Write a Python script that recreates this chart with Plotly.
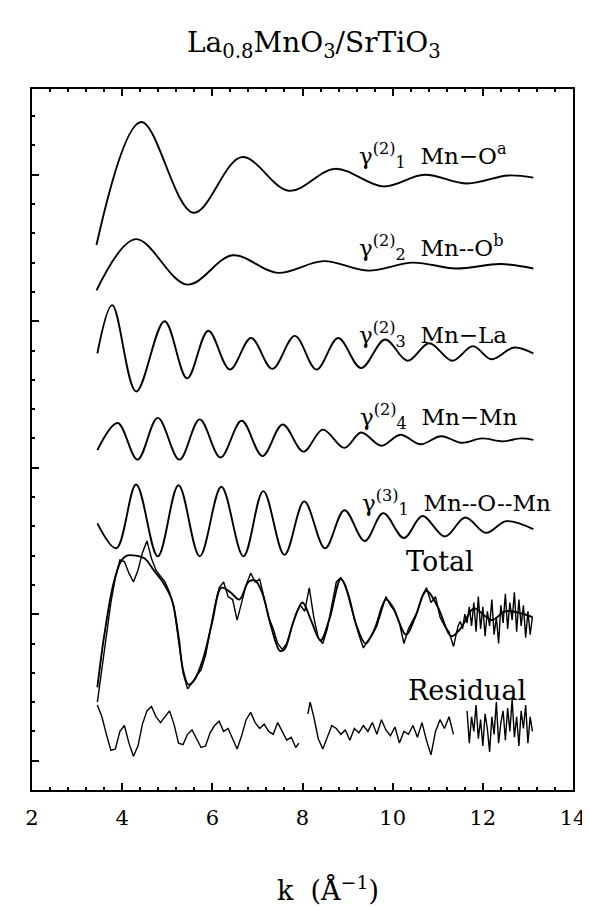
import plotly.graph_objects as go

# ---- component curves (extrema), shifted values ----
K_MNOA = [3.43, 4.42, 5.58, 6.65, 7.70, 8.72, 9.79, 10.70, 11.65, 12.56, 13.12]
Y_MNOA = [3.52, 4.36, 3.74, 4.12, 3.89, 4.04, 3.92, 4.00, 3.94, 3.995, 3.98]

K_MNOB = [3.43, 4.30, 5.44, 6.45, 7.44, 8.47, 9.46, 10.45, 11.40, 12.40, 13.12]
Y_MNOB = [3.21, 3.56, 3.25, 3.45, 3.33, 3.41, 3.345, 3.40, 3.36, 3.39, 3.36]

K_MNLA = [3.45, 3.78, 4.31, 4.94, 5.44, 5.91, 6.39, 6.86, 7.33, 7.83, 8.31, 8.79,
          9.30, 9.83, 10.33, 10.81, 11.32, 11.78, 12.19, 12.69, 13.12]
Y_MNLA = [2.78, 3.11, 2.52, 3.00, 2.61, 2.935, 2.67, 2.885, 2.675, 2.90, 2.67, 2.885,
          2.68, 2.875, 2.73, 2.85, 2.73, 2.83, 2.74, 2.82, 2.78]

K_MNMN = [3.45, 3.90, 4.34, 4.79, 5.27, 5.72, 6.18, 6.65, 7.11, 7.56, 8.02, 8.45,
          8.93, 9.30, 9.75, 10.17, 10.62, 11.07, 11.53, 11.98, 12.44, 12.85, 13.12]
Y_MNMN = [2.12, 2.305, 2.055, 2.34, 2.055, 2.33, 2.07, 2.32, 2.08, 2.295, 2.11, 2.26,
          2.135, 2.24, 2.15, 2.225, 2.16, 2.215, 2.17, 2.20, 2.18, 2.20, 2.19]

K_MNOMN = [3.45, 3.87, 4.31, 4.79, 5.25, 5.72, 6.20, 6.69, 7.13, 7.60, 8.04, 8.50,
           8.93, 9.38, 9.79, 10.25, 10.66, 11.16, 11.61, 12.07, 12.52, 13.12]
Y_MNOMN = [1.62, 1.45, 1.885, 1.395, 1.88, 1.395, 1.87, 1.395, 1.84, 1.405, 1.77, 1.45,
           1.71, 1.50, 1.69, 1.52, 1.67, 1.53, 1.66, 1.555, 1.635, 1.58]

# ---- total: fit (smooth) and data (noisy) ----
K_FIT = [3.45, 3.6, 3.8, 3.97, 4.1, 4.3, 4.5, 4.7, 4.9, 5.1, 5.25, 5.35, 5.47, 5.6,
         5.8, 6.0, 6.2, 6.4, 6.6, 6.8, 6.95, 7.1, 7.3, 7.5, 7.6, 7.8, 8.0, 8.2, 8.4,
         8.6, 8.85, 9.0, 9.2, 9.4, 9.6, 9.85, 10.0, 10.3, 10.5, 10.75, 11.0, 11.3,
         11.5, 11.8, 12.0, 12.2, 12.5, 12.8, 13.1]
Y_FIT = [0.50, 0.85, 1.20, 1.36, 1.40, 1.40, 1.38, 1.30, 1.22, 1.10, 0.85, 0.62, 0.52,
         0.55, 0.70, 0.95, 1.18, 1.15, 1.10, 1.22, 1.23, 1.15, 0.92, 0.75, 0.76, 0.95,
         1.08, 0.95, 0.82, 0.97, 1.24, 1.15, 0.92, 0.80, 0.90, 1.10, 1.05, 0.86, 0.98,
         1.16, 1.05, 0.85, 0.90, 1.04, 1.00, 0.96, 1.02, 1.01, 0.98]

K_DATA = [3.45, 3.55, 3.65, 3.75, 3.85, 3.95, 4.05, 4.15, 4.25, 4.35, 4.45, 4.55, 4.65,
          4.75, 4.85, 4.95, 5.05, 5.15, 5.25, 5.35, 5.45, 5.55, 5.65, 5.75, 5.85, 5.95,
          6.05, 6.15, 6.25, 6.35, 6.45, 6.55, 6.65, 6.75, 6.85, 6.95, 7.05, 7.15, 7.25,
          7.35, 7.45, 7.55, 7.65, 7.75, 7.85, 7.95, 8.05, 8.15, 8.25, 8.35, 8.45, 8.55,
          8.65, 8.75, 8.85, 8.95, 9.05, 9.15, 9.25, 9.35, 9.45, 9.55, 9.65, 9.75, 9.85,
          9.95, 10.05, 10.15, 10.25, 10.35, 10.45, 10.55, 10.65, 10.75, 10.85, 10.95,
          11.05, 11.15, 11.25, 11.35, 11.45, 11.50, 11.55, 11.60, 11.65, 11.70, 11.75,
          11.80, 11.85, 11.90, 11.95, 12.00, 12.05, 12.10, 12.15, 12.20, 12.25, 12.30,
          12.35, 12.40, 12.45, 12.50, 12.55, 12.60, 12.65, 12.70, 12.75, 12.80, 12.85,
          12.90, 12.95, 13.00, 13.05, 13.10]
Y_DATA = [0.40, 0.62, 0.85, 1.08, 1.25, 1.37, 1.36, 1.28, 1.22, 1.30, 1.42, 1.50, 1.38,
          1.30, 1.26, 1.22, 1.15, 1.05, 0.82, 0.60, 0.49, 0.53, 0.58, 0.62, 0.72, 0.90,
          1.05, 1.18, 1.22, 1.12, 1.10, 0.96, 1.08, 1.20, 1.28, 1.22, 1.24, 1.10, 0.98,
          0.90, 0.80, 0.76, 0.80, 0.90, 1.00, 1.06, 1.02, 1.18, 0.98, 0.84, 0.80, 0.90,
          1.05, 1.22, 1.25, 1.20, 1.08, 0.96, 0.86, 0.77, 0.82, 0.86, 0.92, 1.02, 1.12,
          1.06, 1.02, 0.94, 0.80, 0.90, 0.96, 1.02, 1.12, 1.18, 1.08, 1.12, 0.98, 0.92,
          0.88, 0.78, 0.92, 0.95, 0.90, 1.00, 0.94, 1.05, 0.92, 1.08, 0.88, 1.12, 0.90,
          1.05, 0.85, 1.02, 0.92, 1.10, 0.86, 0.98, 0.80, 1.06, 0.94, 1.14, 0.90, 1.08,
          0.96, 1.15, 0.88, 1.10, 0.92, 1.06, 0.84, 1.02, 0.86, 0.98]

# ---- residual (None marks a break in the trace) ----
K_RES = [3.45, 3.55, 3.65, 3.75, 3.85, 3.95, 4.05, 4.15, 4.25, 4.35, 4.45, 4.55, 4.65,
         4.75, 4.85, 4.95, 5.05, 5.15, 5.25, 5.35, 5.45, 5.55, 5.65, 5.75, 5.85, 5.95,
         6.05, 6.15, 6.25, 6.35, 6.45, 6.55, 6.65, 6.75, 6.85, 6.95, 7.05, 7.15, 7.25,
         7.35, 7.45, 7.55, 7.65, 7.75, 7.85, 7.92, 8.02, 8.12, 8.17, 8.25, 8.35, 8.45,
         8.55, 8.65, 8.75, 8.85, 8.95, 9.05, 9.15, 9.25, 9.35, 9.45, 9.55, 9.65, 9.75,
         9.85, 9.95, 10.05, 10.15, 10.25, 10.35, 10.45, 10.55, 10.65, 10.75, 10.85,
         10.95, 11.05, 11.15, 11.25, 11.35, 11.50, 11.65, 11.70, 11.75, 11.80, 11.85,
         11.90, 11.95, 12.00, 12.05, 12.10, 12.15, 12.20, 12.25, 12.30, 12.35, 12.40,
         12.45, 12.50, 12.55, 12.60, 12.65, 12.70, 12.75, 12.80, 12.85, 12.90, 12.95,
         13.00, 13.05, 13.10]
Y_RES = [0.38, 0.30, 0.18, 0.07, 0.08, 0.20, 0.24, 0.12, 0.03, 0.10, 0.25, 0.34, 0.37,
         0.30, 0.26, 0.30, 0.34, 0.25, 0.12, 0.11, 0.18, 0.21, 0.15, 0.09, 0.10, 0.19,
         0.24, 0.27, 0.20, 0.22, 0.15, 0.08, 0.17, 0.28, 0.33, 0.26, 0.22, 0.25, 0.20,
         0.18, 0.26, 0.20, 0.14, 0.16, 0.09, 0.12, None, 0.32, 0.40, 0.30, 0.15, 0.08,
         0.16, 0.24, 0.22, 0.18, 0.21, 0.14, 0.22, 0.19, 0.24, 0.20, 0.26, 0.18, 0.28,
         0.21, 0.17, 0.23, 0.12, 0.20, 0.18, 0.24, 0.16, 0.26, 0.14, 0.04,
         0.20, 0.28, 0.22, 0.30, 0.18, None, 0.34, 0.12, 0.30, 0.20, 0.38,
         0.15, 0.28, 0.10, 0.32, 0.22, 0.06, 0.30, 0.18, 0.40, 0.12, 0.26,
         0.34, 0.14, 0.36, 0.20, 0.42, 0.16, 0.30, 0.10, 0.34, 0.22, 0.38,
         0.12, 0.30, 0.20]

# ---- labels ----
LABELS = ["γ<sup>(2)</sup><sub>1</sub>  Mn−O<sup>a</sup>",
          "γ<sup>(2)</sup><sub>2</sub>  Mn--O<sup>b</sup>",
          "γ<sup>(2)</sup><sub>3</sub>  Mn−La",
          "γ<sup>(2)</sup><sub>4</sub>  Mn−Mn",
          "γ<sup>(3)</sup><sub>1</sub>  Mn--O--Mn",
          "Total", "Residual"]
LABEL_K = [9.2, 9.2, 9.2, 9.24, 9.27, 10.26, 10.3]
LABEL_Y = [4.13, 3.50, 2.91, 2.35, 1.76, 1.36, 0.48]
LABEL_SIZE = [23, 23, 23, 23, 23, 27, 27]

X_TICKS = [2, 4, 6, 8, 10, 12, 14]
TITLE = "La<sub>0.8</sub>MnO<sub>3</sub>/SrTiO<sub>3</sub>"
XTITLE = "k  (Å<sup>−1</sup>)"

FONT = "DejaVu Serif"
fig = go.Figure()
for kx, yy in [(K_MNOA, Y_MNOA), (K_MNOB, Y_MNOB), (K_MNLA, Y_MNLA),
               (K_MNMN, Y_MNMN), (K_MNOMN, Y_MNOMN), (K_FIT, Y_FIT)]:
    fig.add_trace(go.Scatter(x=kx, y=yy, mode="lines",
                             line=dict(color="black", width=1.9, shape="spline"),
                             showlegend=False, hoverinfo="skip"))
fig.add_trace(go.Scatter(x=K_DATA, y=Y_DATA, mode="lines", line=dict(color="black", width=1.4),
                         showlegend=False, hoverinfo="skip"))
fig.add_trace(go.Scatter(x=K_RES, y=Y_RES, mode="lines", line=dict(color="black", width=1.4),
                         connectgaps=False, showlegend=False, hoverinfo="skip"))

for t, kx, yy, sz in zip(LABELS, LABEL_K, LABEL_Y, LABEL_SIZE):
    fig.add_annotation(x=kx, y=yy, text=t, showarrow=False, xanchor="left", yanchor="middle",
                       font=dict(family=FONT, size=sz, color="black"))

fig.add_annotation(x=8.25, y=1.064, xref="x", yref="paper", text=TITLE, showarrow=False,
                   xanchor="center", yanchor="middle", font=dict(family=FONT, size=28, color="black"))
fig.add_annotation(x=8.56, y=-0.1683, xref="x", yref="paper", text=XTITLE, showarrow=False,
                   xanchor="center", yanchor="bottom", font=dict(family=FONT, size=27, color="black"))

fig.update_layout(
    width=590, height=909,
    margin=dict(l=24, r=17, t=81, b=127),
    plot_bgcolor="white", paper_bgcolor="white",
    xaxis=dict(range=[2, 14], tickvals=X_TICKS, ticktext=[str(v) for v in X_TICKS],
               ticks="inside", ticklen=7, tickwidth=1.5, tickcolor="black",
               showline=True, linecolor="black", linewidth=2, mirror="ticks",
               showgrid=False, zeroline=False, ticklabelstandoff=8,
               tickfont=dict(family=FONT, size=21, color="black"),
               minor=dict(dtick=0.4, tick0=2, ticks="inside", ticklen=3, tickcolor="black",
                          showgrid=False)),
    yaxis=dict(range=[-0.2, 4.585], tick0=0, dtick=1, ticks="inside", ticklen=7, tickwidth=1.5,
               tickcolor="black", showticklabels=False,
               showline=True, linecolor="black", linewidth=2, mirror=True,
               showgrid=False, zeroline=False,
               minor=dict(dtick=0.2, tick0=0, ticks="inside", ticklen=3, tickcolor="black",
                          showgrid=False)),
)
fig.write_html("out.html")
